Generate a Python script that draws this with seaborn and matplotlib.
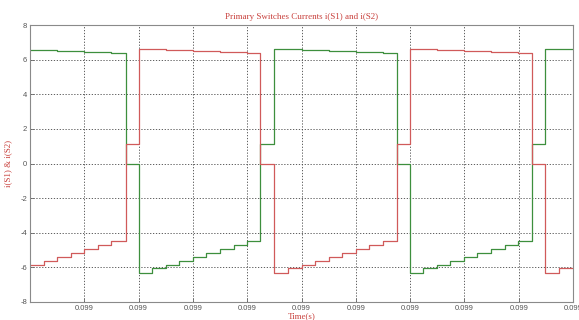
import numpy as np
import pandas as pd
import matplotlib
matplotlib.use("Agg")
import matplotlib.pyplot as plt
import seaborn as sns
from matplotlib.ticker import FormatStrFormatter

# ---- data (time offsets in microseconds after 0.099 s, step values in A) ----
s1_t_us = [0.00, 0.25, 0.50, 0.75, 1.00, 1.25, 1.50, 1.76,
           2.00, 2.25, 2.50, 2.75, 3.00, 3.25, 3.50, 3.75, 4.00, 4.24,
           4.49, 4.75, 5.00, 5.25, 5.50, 5.75, 6.00, 6.25, 6.50, 6.75,
           6.99, 7.24, 7.49, 7.74, 7.99, 8.24, 8.49, 8.74, 8.99, 9.24,
           9.49, 9.74, 10.00]
s1_i = [-5.85, -5.62, -5.40, -5.17, -4.95, -4.72, -4.50, 1.10,
        6.62, 6.59, 6.56, 6.53, 6.50, 6.47, 6.45, 6.42, 6.40, 0.00,
        -6.30, -6.05, -5.85, -5.62, -5.40, -5.17, -4.95, -4.72, -4.50, 1.10,
        6.62, 6.59, 6.56, 6.53, 6.50, 6.47, 6.45, 6.42, 6.40, 0.00,
        -6.30, -6.05, -6.05]

s2_t_us = [0.00, 0.25, 0.50, 0.75, 1.00, 1.25, 1.50, 1.76,
           2.00, 2.25, 2.50, 2.75, 3.00, 3.25, 3.50, 3.75, 4.00, 4.24,
           4.49, 4.75, 5.00, 5.25, 5.50, 5.75, 6.00, 6.25, 6.50, 6.75,
           6.99, 7.24, 7.49, 7.74, 7.99, 8.24, 8.49, 8.74, 8.99, 9.24,
           9.49, 9.74, 10.00]
s2_i = [6.56, 6.53, 6.50, 6.47, 6.45, 6.42, 6.40, 0.00,
        -6.30, -6.05, -5.85, -5.62, -5.40, -5.17, -4.95, -4.72, -4.50, 1.10,
        6.62, 6.59, 6.56, 6.53, 6.50, 6.47, 6.45, 6.42, 6.40, 0.00,
        -6.30, -6.05, -5.85, -5.62, -5.40, -5.17, -4.95, -4.72, -4.50, 1.10,
        6.62, 6.59, 6.59]

t_start = 0.099
x_tick_us = [1, 2, 3, 4, 5, 6, 7, 8, 9, 10]
y_ticks = [-8, -6, -4, -2, 0, 2, 4, 6, 8]

title = "Primary Switches Currents i(S1) and i(S2)"
xlabel = "Time(s)"
ylabel = "i(S1) & i(S2)"

red = "#d05a5a"
green = "#3d8f3d"
text_red = "#c8403c"

# ---- build frames ----
df1 = pd.DataFrame({"t": [t_start + u * 1e-6 for u in s1_t_us], "i": s1_i})
df2 = pd.DataFrame({"t": [t_start + u * 1e-6 for u in s2_t_us], "i": s2_i})

sns.set_theme(style="white")
plt.rcParams["font.family"] = ["Liberation Sans", "DejaVu Sans"]

fig = plt.figure(figsize=(5.79, 3.20), dpi=100)
ax = fig.add_axes([30 / 579, 18 / 320, 543 / 579, 277 / 320])

sns.lineplot(data=df2, x="t", y="i", ax=ax, color=green, linewidth=0.9,
             drawstyle="steps-post", estimator=None, sort=False)
sns.lineplot(data=df1, x="t", y="i", ax=ax, color=red, linewidth=0.9,
             drawstyle="steps-post", estimator=None, sort=False)

ax.set_xlim(t_start, t_start + 10e-6)
ax.set_ylim(-8, 8)
ax.set_xticks([t_start + u * 1e-6 for u in x_tick_us])
ax.set_yticks(y_ticks)
ax.xaxis.set_major_formatter(FormatStrFormatter("%.3f"))
ax.yaxis.set_major_formatter(FormatStrFormatter("%d"))

ax.grid(True, linestyle=(0, (1.5, 2)), color="#444444", linewidth=0.6)
for sp in ax.spines.values():
    sp.set_color("#8a8a8a")
    sp.set_linewidth(0.8)

ax.tick_params(axis="both", which="major", labelsize=5.5, labelcolor="#555555",
               direction="in", length=3, color="#666666", width=0.6,
               bottom=True, left=True, pad=2)

ax.set_title(title, fontsize=6.5, color=text_red,
             family=["Liberation Serif", "DejaVu Serif"], pad=4)
ax.set_xlabel(xlabel, fontsize=6.5, color=text_red,
              family=["Liberation Serif", "DejaVu Serif"], labelpad=0)
ax.set_ylabel(ylabel, fontsize=6.5, color=text_red,
              family=["Liberation Serif", "DejaVu Serif"], labelpad=6)

fig.savefig("out.png", dpi=100)
